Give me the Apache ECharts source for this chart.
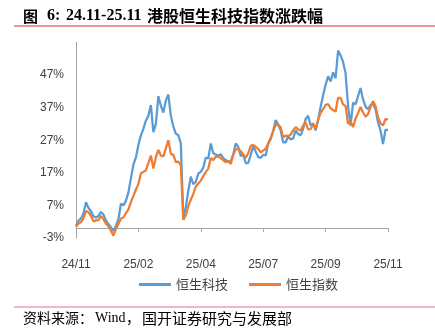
<!DOCTYPE html>
<html><head><meta charset="utf-8">
<script src="https://cdn.jsdelivr.net/npm/echarts@6/dist/echarts.min.js"></script>
<style>html,body{margin:0;padding:0;background:#fff}#c{width:435px;height:331px}</style>
</head><body><div id="c"></div>
<script>
const tickLabels = ['24/11','25/02','25/04','25/07','25/09','25/11'];
const seriesNames = ['恒生科技','恒生指数'];
const hstech = [0.8,2.3,3.0,4.5,8.0,6.2,5.3,3.7,3.3,3.8,
 5.0,4.2,2.4,1.2,0.3,-0.9,0.8,2.8,7.5,7.0,
 8.4,11.0,15.3,19.5,21.7,25.5,28.5,30.5,33.0,34.5,
 37.8,29.5,32.0,40.5,37.6,35.5,39.2,41.0,34.5,31.2,
 29.0,28.5,26.0,3.0,6.5,11.5,15.8,13.5,14.2,16.8,
 17.3,18.6,21.7,21.4,26.0,23.0,22.6,22.2,22.7,21.5,
 20.9,20.5,20.6,22.6,26.0,25.0,22.2,22.5,20.0,20.0,
 22.5,25.2,23.5,21.8,21.6,22.5,22.3,26.0,27.3,29.8,
 33.2,31.9,30.0,26.3,26.3,28.2,27.2,27.5,30.0,28.9,
 28.5,30.5,33.5,34.5,31.5,32.2,30.0,33.2,37.2,40.8,
 44.0,46.6,45.0,47.8,46.0,54.5,53.0,51.0,47.5,37.5,
 31.5,38.5,38.0,40.5,43.0,39.5,37.3,36.5,37.8,38.2,
 36.5,32.5,30.0,25.8,30.2,30.2];
const hsi = [0.4,1.4,1.9,3.0,5.3,4.9,3.8,2.1,2.4,2.5,
 3.8,2.8,1.4,0.6,-0.8,-2.3,-0.2,1.3,3.0,3.3,
 4.6,5.8,8.0,9.9,11.8,13.6,16.8,17.3,17.8,20.0,
 22.3,18.3,21.8,24.0,22.3,22.0,24.5,27.0,22.8,22.5,
 20.3,20.4,19.4,2.5,4.0,6.8,8.8,10.5,12.8,13.7,
 14.6,16.0,17.3,18.3,21.5,20.9,22.0,22.0,21.5,20.9,
 20.2,20.6,19.7,22.5,24.3,24.2,23.7,22.6,21.6,23.0,
 25.3,25.6,25.0,24.3,23.3,23.8,24.4,26.0,27.8,29.8,
 31.8,31.6,31.0,27.9,28.4,28.3,28.7,30.0,31.0,30.3,
 30.0,31.5,32.5,30.3,30.4,32.0,30.6,33.2,35.4,36.5,
 37.8,38.1,36.8,36.2,35.8,40.0,40.0,38.0,37.5,32.0,
 32.8,31.0,33.6,35.3,37.2,35.5,34.2,35.0,37.2,39.0,
 37.5,34.0,32.2,31.5,33.5,33.4];

const N = hstech.length;
const step = (N - 1) / (tickLabels.length - 1);
const categories = hstech.map((_, i) => String(i));

const chart = echarts.init(document.getElementById('c'), null, {renderer: 'canvas'});
chart.setOption({
  animation: false,
  backgroundColor: '#fff',
  grid: {left: 76, right: 47, top: 42.4, bottom: 93},
  legend: {
    data: seriesNames,
    left: 134, top: 273,
    icon: 'rect', itemWidth: 32, itemHeight: 3, itemGap: 21,
    textStyle: {fontSize: 13, color: '#404040', fontFamily: '"Noto Sans CJK SC", sans-serif'}
  },
  xAxis: {
    type: 'category', data: categories, boundaryGap: false,
    axisLine: {onZero: true, lineStyle: {color: '#a6a6a6', width: 1}},
    axisTick: {show: true, interval: step - 1, length: 4, lineStyle: {color: '#a6a6a6'}},
    axisLabel: {
      interval: step - 1, margin: 21, fontSize: 12, color: '#404040',
      fontFamily: '"Liberation Sans", sans-serif',
      formatter: (v, idx) => tickLabels[Math.round(idx / step)]
    },
    splitLine: {show: false}
  },
  yAxis: {
    type: 'value', min: -3, max: 57, interval: 10,
    axisLine: {show: true, lineStyle: {color: '#a6a6a6', width: 1}},
    axisTick: {show: false},
    splitLine: {show: false},
    axisLabel: {formatter: '{value}%', margin: 12, fontSize: 12, color: '#404040',
      showMaxLabel: false,
      fontFamily: '"Liberation Sans", sans-serif'}
  },
  series: [
    {name: seriesNames[0], type: 'line', data: hstech, showSymbol: false, symbol: 'none',
     lineStyle: {width: 2.25, color: '#5B9BD5'}, itemStyle: {color: '#5B9BD5'}},
    {name: seriesNames[1], type: 'line', data: hsi, showSymbol: false, symbol: 'none',
     lineStyle: {width: 2.25, color: '#ED7D31'}, itemStyle: {color: '#ED7D31'}}
  ],
  graphic: [
    {type: 'text', style: {x: 23, y: 16, text: '图', font: 'bold 15px "Noto Sans CJK SC"', fill: '#000', verticalAlign: 'middle'}},
    {type: 'text', style: {x: 47, y: 16, text: '6:', font: 'bold 16px "Liberation Serif"', fill: '#000', verticalAlign: 'middle'}},
    {type: 'text', style: {x: 66, y: 16, text: '24.11-25.11', font: 'bold 16px "Liberation Serif"', fill: '#000', verticalAlign: 'middle'}},
    {type: 'text', style: {x: 147, y: 16, text: '港股恒生科技指数涨跌幅', font: 'bold 16px "Noto Sans CJK SC"', fill: '#000', verticalAlign: 'middle'}},
    {type: 'line', shape: {x1: 14, y1: 26, x2: 435, y2: 26}, style: {stroke: '#d9302c', lineWidth: 1.2}},
    {type: 'line', shape: {x1: 14, y1: 307, x2: 435, y2: 307}, style: {stroke: '#e8a2aa', lineWidth: 1.5}},
    {type: 'text', style: {x: 23, y: 318, text: '资料来源：', font: '14px "Noto Sans CJK SC"', fill: '#000', verticalAlign: 'middle'}},
    {type: 'text', style: {x: 95, y: 318, text: 'Wind', font: '14px "Liberation Serif"', fill: '#000', verticalAlign: 'middle'}},
    {type: 'text', style: {x: 126, y: 318, text: '，', font: '14px "Noto Sans CJK SC"', fill: '#000', verticalAlign: 'middle'}},
    {type: 'text', style: {x: 142, y: 318, text: '国开证券研究与发展部', font: '15px "Noto Sans CJK SC"', fill: '#000', verticalAlign: 'middle'}}
  ]
});
</script>
</body></html>
